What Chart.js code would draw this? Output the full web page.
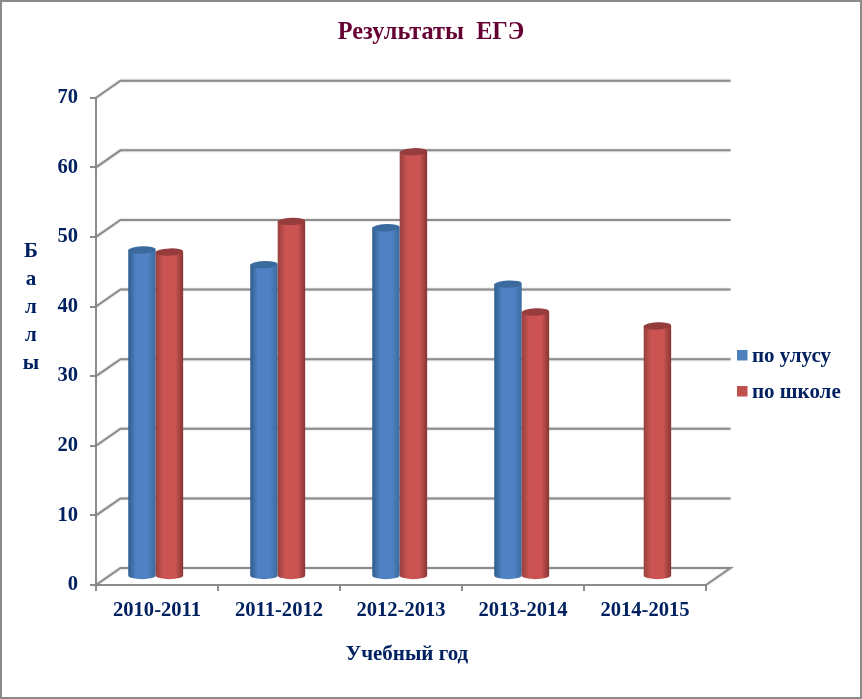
<!DOCTYPE html>
<html>
<head>
<meta charset="utf-8">
<title>Результаты ЕГЭ</title>
<script src="https://cdn.jsdelivr.net/npm/chart.js@4"></script>
<style>
  html, body { margin: 0; padding: 0; background: #fff; }
  canvas { display: block; }
</style>
</head>
<body>
<canvas id="chart" width="862" height="699"></canvas>
<script>
const categories = ['2010-2011', '2011-2012', '2012-2013', '2013-2014', '2014-2015'];
const ulusValues = [46.9, 44.8, 50.1, 42, null];
const schoolValues = [46.6, 51, 61, 38, 36];
const seriesNames = ['по улусу', 'по школе'];
const yTitleLetters = ['Б', 'а', 'л', 'л', 'ы'];

const FONT = '"Liberation Serif", "Times New Roman", serif';
const NAVY = '#002060';
const AXIS = '#8c8c8c';
const DEPTH_X = 24.5;
const DEPTH_Y = 17;

// blue / red cylinder shades: edge, centre, edge, top cap
const shades = [
  ['#305c8c', '#4f81c4', '#3c6a9e', '#3b6b9e'],
  ['#97403e', '#cb5452', '#883533', '#963c3c']
];

// back wall, floor and slanted gridlines, then the cylinders on top
const wallAndCylinders = {
  id: 'wallAndCylinders',
  beforeDatasetsDraw(chart) {
    const { ctx, chartArea } = chart;
    const y = chart.scales.y;
    ctx.save();
    ctx.strokeStyle = AXIS;
    ctx.lineWidth = 2;
    ctx.shadowColor = 'rgba(0,0,0,0.25)';
    ctx.shadowBlur = 2;
    y.ticks.forEach(tick => {
      const py = y.getPixelForValue(tick.value);
      ctx.beginPath();
      ctx.moveTo(chartArea.left, py);
      ctx.lineTo(chartArea.left + DEPTH_X, py - DEPTH_Y);
      ctx.lineTo(chartArea.right + DEPTH_X, py - DEPTH_Y);
      if (tick.value === 0) ctx.lineTo(chartArea.right, py);
      ctx.stroke();
    });
    ctx.restore();

    chart.data.labels.forEach((label, i) => {
      chart.data.datasets.forEach((ds, d) => {
        if (ds.data[i] == null) return;
        drawCylinder(ctx, chart.getDatasetMeta(d).data[i], shades[d]);
      });
    });
  },
  beforeDatasetDraw() {
    return false;
  }
};

function drawCylinder(ctx, bar, shade) {
  const rx = bar.width / 2;
  const ry = 3.7;
  const cx = bar.x - 1.3;
  const top = bar.y - DEPTH_Y / 2;
  const bottom = bar.base - DEPTH_Y / 2;
  const grad = ctx.createLinearGradient(cx - rx, 0, cx + rx, 0);
  grad.addColorStop(0, shade[0]);
  grad.addColorStop(0.28, shade[1]);
  grad.addColorStop(0.72, shade[1]);
  grad.addColorStop(1, shade[2]);
  ctx.save();
  ctx.fillStyle = grad;
  ctx.beginPath();
  ctx.moveTo(cx - rx, top);
  ctx.lineTo(cx - rx, bottom);
  ctx.ellipse(cx, bottom, rx, ry, 0, Math.PI, 0, true);
  ctx.lineTo(cx + rx, top);
  ctx.closePath();
  ctx.fill();
  ctx.fillStyle = shade[3];
  ctx.beginPath();
  ctx.ellipse(cx, top, rx, ry, -0.04, 0, Math.PI * 2);
  ctx.fill();
  ctx.restore();
}

// frame, chart title, stacked axis title, x axis title and legend
const decorations = {
  id: 'decorations',
  beforeDraw(chart) {
    const { ctx, width, height } = chart;
    ctx.save();
    ctx.strokeStyle = '#8a8a8a';
    ctx.lineWidth = 2;
    ctx.strokeRect(1, 1, width - 2, height - 2);
    ctx.restore();
  },
  afterDraw(chart) {
    const { ctx } = chart;
    ctx.save();
    ctx.textAlign = 'center';
    ctx.textBaseline = 'middle';
    ctx.fillStyle = '#660033';
    ctx.font = 'bold 24.3px ' + FONT;
    ctx.fillText('Результаты  ЕГЭ', 431, 33);

    ctx.fillStyle = NAVY;
    ctx.font = 'bold 21px ' + FONT;
    yTitleLetters.forEach((letter, i) => {
      ctx.fillText(letter, 31, 252 + i * 28);
    });
    ctx.fillText('Учебный год', 407, 655);

    ctx.textAlign = 'left';
    chart.data.datasets.forEach((ds, i) => {
      const rowY = 355.5 + i * 36;
      ctx.fillStyle = ds.backgroundColor;
      ctx.fillRect(737, rowY - 5.5, 10.5, 10.5);
      ctx.fillStyle = NAVY;
      ctx.fillText(ds.label, 752, rowY + 1);
    });
    ctx.restore();
  }
};

new Chart(document.getElementById('chart'), {
  type: 'bar',
  data: {
    labels: categories,
    datasets: [
      { label: seriesNames[0], data: ulusValues, backgroundColor: '#4f81bd' },
      { label: seriesNames[1], data: schoolValues, backgroundColor: '#c0504d' }
    ]
  },
  options: {
    responsive: false,
    animation: false,
    devicePixelRatio: 1,
    layout: { padding: { left: 0, right: 156, top: 97.7, bottom: 64 } },
    categoryPercentage: 0.45,
    barPercentage: 1,
    plugins: {
      legend: { display: false },
      tooltip: { enabled: false }
    },
    scales: {
      x: {
        afterFit(scale) { scale.height = 50; },
        border: { color: AXIS, width: 2 },
        grid: { drawOnChartArea: false, color: AXIS, lineWidth: 2, tickLength: 6 },
        ticks: { color: NAVY, padding: 7, maxRotation: 0, font: { family: FONT, size: 20.6, weight: 'bold' } }
      },
      y: {
        min: 0,
        max: 70,
        afterFit(scale) { scale.width = 96; },
        border: { color: AXIS, width: 2 },
        grid: { drawOnChartArea: false, color: AXIS, lineWidth: 2, tickLength: 6 },
        ticks: { stepSize: 10, color: NAVY, padding: 12, font: { family: FONT, size: 20.5, weight: 'bold' } }
      }
    }
  },
  plugins: [wallAndCylinders, decorations]
});
</script>
</body>
</html>
